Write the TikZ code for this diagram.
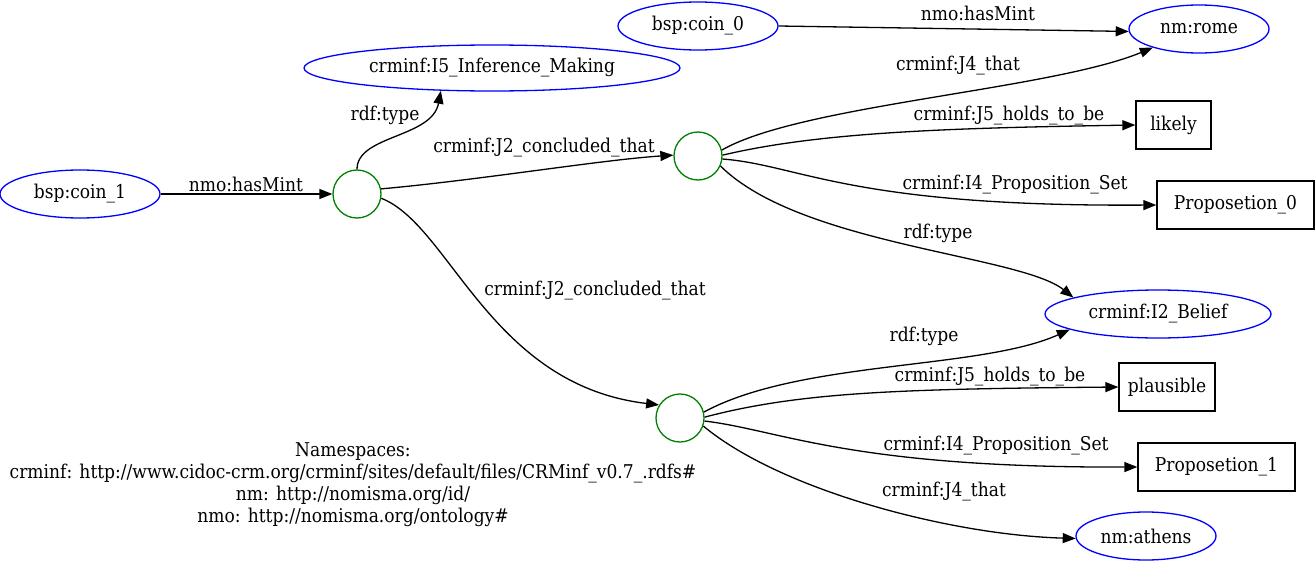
\documentclass[tikz,border=0pt]{standalone}
\usepackage{fontspec}
\setmainfont{DejaVu Serif Condensed}
\usetikzlibrary{shapes.geometric,arrows.meta}
\definecolor{gvblue}{RGB}{0,0,255}
\definecolor{gvgreen}{RGB}{0,128,0}
\begin{document}
\begin{tikzpicture}[x=1pt,y=-1pt,
  every node/.style={font=\fontsize{19}{22}\selectfont},
  uri/.style={ellipse,draw=gvblue,line width=1.3pt,inner sep=0pt},
  blank/.style={circle,draw=gvgreen,line width=1.3pt,inner sep=0pt,minimum size=48pt},
  lit/.style={rectangle,draw=black,line width=1.3pt,inner sep=0pt,minimum height=48pt},
  edge/.style={line width=1.3pt,-{Triangle[length=13pt,width=10pt]}},
  lbl/.style={inner sep=0pt}]
\useasboundingbox (0,0) rectangle (1315,562);
% nodes
\node[uri,minimum width=160pt,minimum height=48pt] (coin1) at (80,194) {bsp:coin\_1};
\node[blank] (b1) at (357,194) {};
\node[uri,minimum width=376pt,minimum height=46pt] (i5) at (492,68) {crminf:I5\_Inference\_Making};
\node[uri,minimum width=160pt,minimum height=48pt] (coin0) at (698,26) {bsp:coin\_0};
\node[uri,minimum width=140pt,minimum height=48pt] (rome) at (1199,29) {nm:rome};
\node[blank] (b2) at (698,156) {};
\node[lit,minimum width=75pt] (likely) at (1173.5,125) {likely};
\node[lit,minimum width=157pt] (p0) at (1235.5,205) {Proposetion\_0};
\node[uri,minimum width=226pt,minimum height=48pt] (i2) at (1158,314) {crminf:I2\_Belief};
\node[blank] (b3) at (680,418) {};
\node[lit,minimum width=96pt] (plaus) at (1167,387) {plausible};
\node[lit,minimum width=157pt] (p1) at (1216.5,467) {Proposetion\_1};
\node[uri,minimum width=140pt,minimum height=48pt] (athens) at (1146,536) {nm:athens};
\node[align=center,inner sep=0pt] (ns) at (353,485) {Namespaces:\\crminf: http://www.cidoc-crm.org/crminf/sites/default/files/CRMinf\_v0.7\_.rdfs\#\\nm: http://nomisma.org/id/\\nmo: http://nomisma.org/ontology\#};
% edges
\draw[edge] (coin1.east) -- (b1.west) node[lbl,at={(246,184)}] {nmo:hasMint};
\draw[edge] (b1.90) .. controls (357,135) and (432,138) .. (i5.204) node[lbl,at={(385,115)}] {rdf:type};
\draw[edge] (b1.12) .. controls (480,180) and (600,160) .. (b2.178) node[lbl,at={(544,148)}] {crminf:J2\_concluded\_that};
\draw[edge] (b1.350) .. controls (450,225) and (490,385) .. (b3.148) node[lbl,at={(595,291)}] {crminf:J2\_concluded\_that};
\draw[edge] (coin0.east) -- (rome.182) node[lbl,at={(978,13)}] {nmo:hasMint};
\draw[edge] (b2.14) .. controls (800,105) and (1050,90) .. (rome.202) node[lbl,at={(958,66)}] {crminf:J4\_that};
\draw[edge] (b2.2) .. controls (820,132) and (950,128) .. (likely.west) node[lbl,at={(1009,116)}] {crminf:J5\_holds\_to\_be};
\draw[edge] (b2.353) .. controls (800,165) and (850,207) .. (p0.west) node[lbl,at={(1015,185)}] {crminf:I4\_Proposition\_Set};
\draw[edge] (b2.336) .. controls (800,245) and (1020,255) .. (i2.169) node[lbl,at={(938,233)}] {rdf:type};
\draw[edge] (b3.14) .. controls (800,360) and (980,370) .. (i2.190) node[lbl,at={(924,336)}] {rdf:type};
\draw[edge] (b3.2) .. controls (800,392) and (900,389) .. (plaus.west) node[lbl,at={(990,377)}] {crminf:J5\_holds\_to\_be};
\draw[edge] (b3.353) .. controls (780,430) and (850,468) .. (p1.west) node[lbl,at={(996,446)}] {crminf:I4\_Proposition\_Set};
\draw[edge] (b3.341) .. controls (780,490) and (950,535) .. (athens.182) node[lbl,at={(944,492)}] {crminf:J4\_that};
\end{tikzpicture}
\end{document}
